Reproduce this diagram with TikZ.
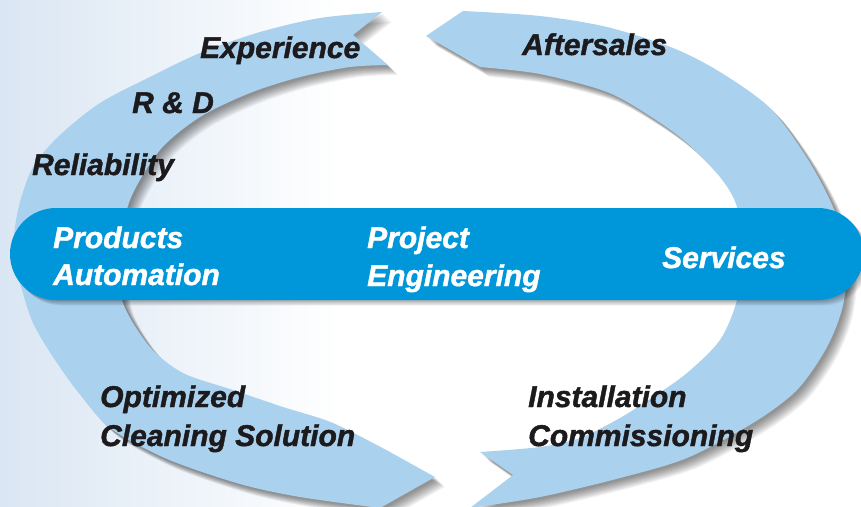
\documentclass[tikz,border=0pt]{standalone}
\usepackage{fontspec}
\setmainfont{Liberation Sans}[BoldItalicFeatures={FakeBold=1.4}]
\definecolor{arrowblue}{RGB}{170,210,239}
\definecolor{barblue}{RGB}{0,150,218}
\definecolor{bgleft}{RGB}{218,230,243}
\definecolor{txt}{RGB}{28,26,28}
\def\leftarrowpath{(382,12) -- (353,35) -- (388,65)
  -- plot[smooth] coordinates {(388,65) (350,67) (300,77) (250,93) (200,117) (160,150) (130,200) (119,255) (123,303) (150,347) (183,373) (233,390) (283,407) (333,423) (390,452)}
  -- (435,477)
  -- plot[smooth] coordinates {(380,508) (300,497) (240,484) (167,459) (110,428) (78,392) (53,357) (33,323) (22,290) (13,255) (18,210) (33,167) (60,135) (100,103) (150,77) (200,53) (260,32) (320,18) (382,12)}
  -- cycle}
\def\rightarrowpath{(470,508) -- (513,475) -- (480,452)
  -- plot[smooth] coordinates {(480,452) (540,447) (580,438) (620,418) (653,397) (687,373) (720,340) (737,300) (742,255) (737,207) (720,177) (687,143) (653,118) (607,92) (540,74) (480,67)}
  -- (426,36)
  -- plot[smooth] coordinates {(463,11) (540,16) (607,27) (673,48) (720,72) (770,108) (807,158) (833,207) (847,255) (843,305) (827,347) (797,390) (753,423) (687,458) (620,478) (540,497) (470,508)}
  -- cycle}
\def\barpath{[rounded corners=46pt] (10,208) rectangle (864,300)}
\begin{document}
\begin{tikzpicture}[x=1pt,y=-1pt,
  lbl/.style={anchor=base west, inner sep=0pt, font=\fontsize{30}{32}\selectfont\bfseries\itshape, text=txt},
  wlbl/.style={lbl, text=white},
  shadowstyle/.style={fill=black, opacity=0.05}]
\useasboundingbox (0,0) rectangle (861,506);
\begin{scope}
\clip (0,0) rectangle (861,506);
% background
\fill[white] (0,0) rectangle (861,506);
\shade[left color=bgleft, right color=white] (0,0) rectangle (340,506);
% arrow shadows
\foreach \k in {1,...,10}{
  \fill[shadowstyle, shift={(\k*0.9+1,\k*0.9+1)}] \leftarrowpath;
  \fill[shadowstyle, shift={(\k*0.9+1,\k*0.9+1)}] \rightarrowpath;
}
% arrows
\fill[arrowblue] \leftarrowpath;
\fill[arrowblue] \rightarrowpath;
% bar shadow
\foreach \k in {1,...,7}{
  \fill[shadowstyle, shift={(\k*0.8,\k*0.8)}] \barpath;
}
\fill[barblue] \barpath;
\end{scope}
% labels
\node[lbl] (exp) at (200,58) {Experience};
\node[lbl] (aft) at (522,55) {Aftersales};
\node[lbl] (rd) at (132,113) {R \& D};
\node[lbl] (rel) at (32,175) {Reliability};
\node[wlbl] (prod) at (53,248) {Products};
\node[wlbl] (auto) at (53,285) {Automation};
\node[wlbl] (proj) at (367,248) {Project};
\node[wlbl] (eng) at (367,286) {Engineering};
\node[wlbl] (serv) at (662,268) {Services};
\node[lbl] (opt) at (100,407) {Optimized};
\node[lbl] (clean) at (100,446) {Cleaning Solution};
\node[lbl] (inst) at (528,407) {Installation};
\node[lbl] (comm) at (528,446) {Commissioning};
\end{tikzpicture}
\end{document}
